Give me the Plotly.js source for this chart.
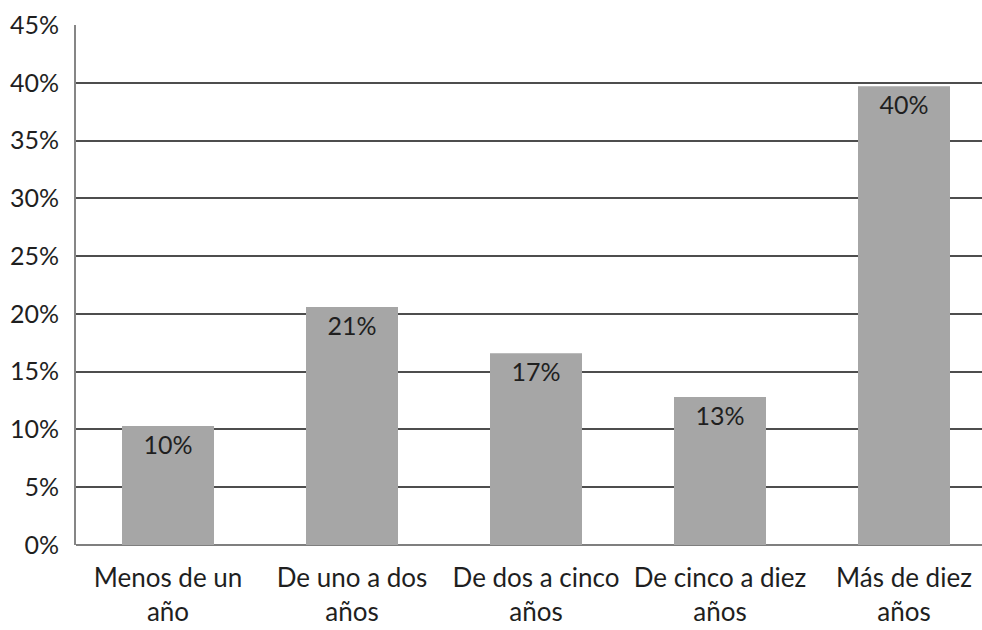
<!DOCTYPE html>
<html>
<head>
<meta charset="utf-8">
<script src="https://cdn.plot.ly/plotly-3.0.1.min.js"></script>
<style>
  html, body { margin: 0; padding: 0; background: #fff; overflow: hidden; }
  #chart { width: 1000px; height: 630px; }
</style>
</head>
<body>
<div id="chart"></div>
<script>
// Antigüedad: share of respondents per time band
const categories = [
  'Menos de un<br>año',
  'De uno a dos<br>años',
  'De dos a cinco<br>años',
  'De cinco a diez<br>años',
  'Más de diez<br>años'
];
const shares = [0.103, 0.206, 0.166, 0.128, 0.397];
const yTicks = [0, 0.05, 0.10, 0.15, 0.20, 0.25, 0.30, 0.35, 0.40, 0.45];
const yTickLabels = ['0%', '5%', '10%', '15%', '20%', '25%', '30%', '35%', '40%', '45%'];

const FONT = 'Lato, "Open Sans", sans-serif';

const trace = {
  type: 'bar',
  x: categories,
  y: shares,
  marker: { color: '#a6a6a6', line: { width: 0 } },
  width: 0.5,
  texttemplate: '%{y:.0%}',
  textposition: 'inside',
  insidetextanchor: 'end',
  textangle: 0,
  insidetextfont: { family: FONT, size: 25, color: '#1f1f1f' },
  hoverinfo: 'none',
  cliponaxis: false
};

const layout = {
  width: 1000,
  height: 630,
  margin: { l: 76, r: 4, t: 25, b: 85 },
  paper_bgcolor: '#ffffff',
  plot_bgcolor: '#ffffff',
  showlegend: false,
  font: { family: FONT, color: '#1f1f1f' },
  xaxis: {
    type: 'category',
    range: [-0.5, 4.5],
    showgrid: false,
    zeroline: false,
    showline: false,
    ticks: '',
    ticklabelstandoff: 15,
    tickfont: { family: FONT, size: 26, color: '#1f1f1f' },
    fixedrange: true
  },
  yaxis: {
    range: [0, 0.45],
    tickvals: yTicks,
    ticktext: yTickLabels,
    showgrid: true,
    gridcolor: '#4d4d4d',
    gridwidth: 2,
    zeroline: true,
    zerolinecolor: '#7f7f7f',
    zerolinewidth: 2,
    showline: true,
    linecolor: '#868686',
    linewidth: 2,
    ticks: '',
    ticklabelstandoff: 10,
    tickfont: { family: FONT, size: 25, color: '#1f1f1f' },
    fixedrange: true
  },
  bargap: 0.5
};

Plotly.newPlot('chart', [trace], layout, { displayModeBar: false, staticPlot: true });
</script>
</body>
</html>
